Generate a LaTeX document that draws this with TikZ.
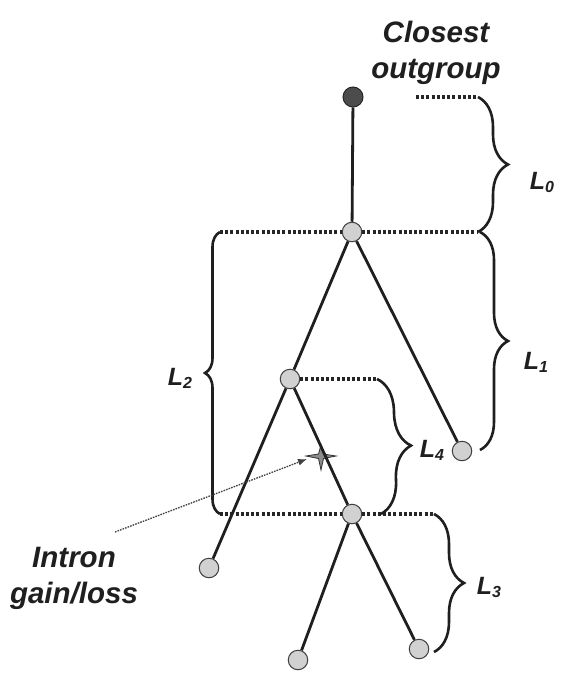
\documentclass[tikz,border=0pt]{standalone}
\usepackage{fontspec}
\setmainfont{Liberation Sans}
\usetikzlibrary{decorations.pathreplacing,arrows.meta}
\newcommand{\Lsub}[1]{L\raisebox{-3pt}{\fontsize{16}{16}\selectfont #1}}
\begin{document}
\begin{tikzpicture}[x=1pt,y=-1pt,
 leaf/.style={circle,draw=black!75,line width=1pt,fill=black!18,minimum size=19.5pt,inner sep=0pt},
 outg/.style={circle,draw=black!85,line width=1pt,fill=black!70,minimum size=20pt,inner sep=0pt},
 branch/.style={line width=2.8pt,draw=black!88},
 guide/.style={line width=3.2pt,draw=black!85,dash pattern=on 3pt off 2.2pt},
 brc/.style={decorate,line width=2.6pt,draw=black!88},
 lab/.style={font=\fontsize{29.5}{36}\selectfont\bfseries\itshape,text=black!88,align=center},
 llab/.style={font=\fontsize{25}{25}\selectfont\bfseries\itshape,text=black!88,inner sep=0pt}]
\fill[white] (0,0) rectangle (573,684);
\useasboundingbox (0,0) rectangle (573,684);

% tree nodes
\node[outg] (O) at (353,97) {};
\node[leaf] (A) at (352,232) {};
\node[leaf] (B) at (290,379) {};
\node[leaf] (C) at (462,451) {};
\node[leaf] (D) at (352,514) {};
\node[leaf] (E) at (209,568) {};
\node[leaf] (F) at (298,660) {};
\node[leaf] (G) at (419,649) {};

% brace end coordinates
\coordinate (g0a) at (416,97);
\coordinate (b0t) at (478,97);
\coordinate (b0b) at (478,232);
\coordinate (b1t) at (480,232);
\coordinate (b1b) at (480,450);
\coordinate (b2t) at (220,232);
\coordinate (b2b) at (220,514);
\coordinate (b4t) at (377,379);
\coordinate (b4b) at (381,514);
\coordinate (b3t) at (434,514);
\coordinate (b3b) at (434,652);

% dotted guides
\draw[guide] (g0a) -- (b0t);
\draw[guide] (b2t) -- (A) -- (b0b);
\draw[guide] (B) -- (b4t);
\draw[guide] (b2b) -- (D) -- (b3t);

% braces
\draw[brc,decoration={brace,amplitude=30pt}] (b0t) -- (b0b);
\draw[brc,decoration={brace,amplitude=28pt}] (b1t) -- (b1b);
\draw[brc,decoration={brace,amplitude=15pt}] (b2b) -- (b2t);
\draw[brc,decoration={brace,amplitude=32pt}] (b4t) -- (b4b);
\draw[brc,decoration={brace,amplitude=30pt}] (b3t) -- (b3b);

% branches
\draw[branch] (O) -- (A);
\draw[branch] (A) -- (B);
\draw[branch] (A) -- (C);
\draw[branch] (B) -- (E);
\draw[branch] (D) -- (F);
\draw[branch] (D) -- (G);

% intron gain/loss mark
\coordinate (star) at (321,456);
\filldraw[fill=black!45,draw=black!80,line width=0.8pt]
  (306,456) -- (318.5,454) -- (321,445) -- (323.5,454) -- (336,456)
  -- (323.5,458.5) -- (321,470) -- (318.5,458.5) -- cycle;
\draw[branch] (B) -- (D);

\coordinate (atail) at (115,532);
\coordinate (ahead) at (307,459);
\draw[line width=1.3pt,draw=black!75,dash pattern=on 1.6pt off 1.1pt,
  -{Latex[length=9pt,width=7pt]}] (atail) -- (ahead);

% labels
\node[lab] (og) at (436,53) {Closest\\outgroup};
\node[lab] (intron) at (74,578) {Intron\\gain/loss};
\node[llab] (l0) at (542,182) {\Lsub{0}};
\node[llab] (l1) at (536,362) {\Lsub{1}};
\node[llab] (l2) at (180,378) {\Lsub{2}};
\node[llab] (l4) at (432,450) {\Lsub{4}};
\node[llab] (l3) at (489,587) {\Lsub{3}};
\end{tikzpicture}
\end{document}
